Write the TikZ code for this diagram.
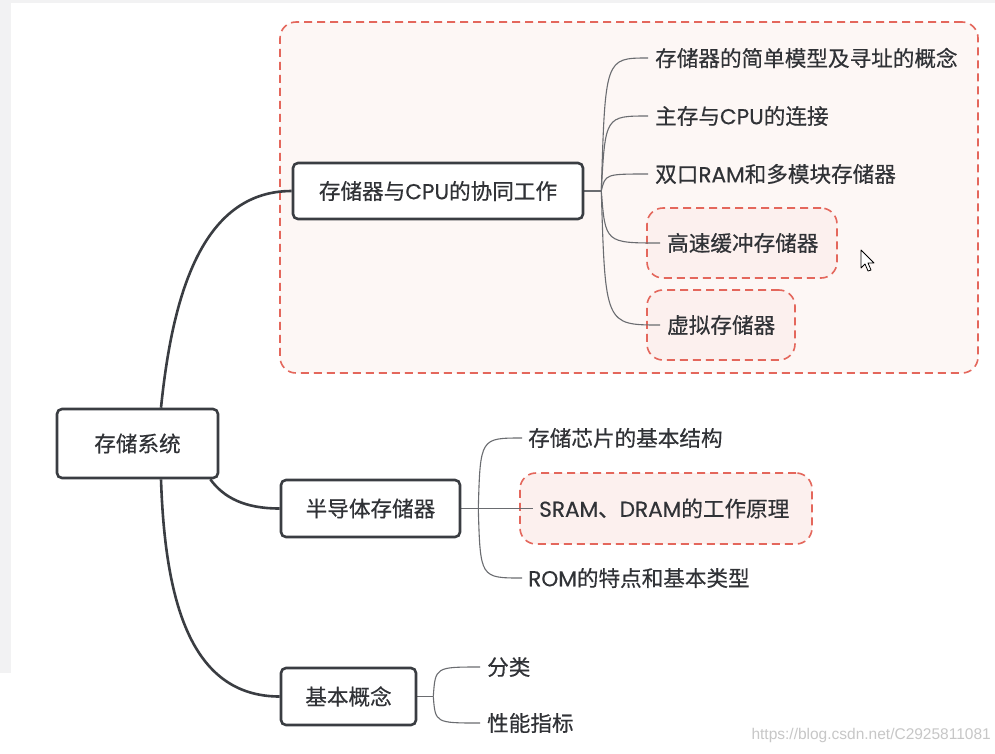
\documentclass[tikz,border=0pt]{standalone}
\usepackage{fontspec}
\setmainfont{Poppins}[FakeBold=0.45]
\newfontfamily\cjkfont{Noto Sans CJK SC}[FakeBold=0.45]
\newfontfamily\wmfont{Liberation Sans}
\usetikzlibrary{calc}
\pgfdeclarelayer{back}
\pgfdeclarelayer{mid}
\pgfsetlayers{back,mid,main}
\newcommand{\zh}[1]{{\cjkfont #1}}
\definecolor{linedark}{HTML}{3A3D42}
\definecolor{linegray}{HTML}{6A6C70}
\definecolor{txt}{HTML}{303236}
\definecolor{dashred}{HTML}{E4675C}
\definecolor{grpfill}{HTML}{FDF7F5}
\definecolor{hlfill}{HTML}{FCF0EE}
\definecolor{bggray}{HTML}{F2F2F3}
\tikzset{
  topicbox/.style={draw=linedark, line width=2.6pt, rounded corners=5pt, fill=white,
    text=txt, font=\fontsize{21.6}{25}\selectfont, inner sep=0pt},
  leaf/.style={anchor=west, inner sep=0pt, text=txt, font=\fontsize{21.6}{25}\selectfont},
  groupbox/.style={draw=dashred, line width=1.6pt, dash pattern=on 8pt off 5pt,
    rounded corners=16pt, fill=grpfill, inner sep=0pt},
  hlbox/.style={draw=dashred, line width=1.6pt, dash pattern=on 8pt off 5pt,
    rounded corners=16pt, fill=hlfill, inner sep=0pt},
  mainlink/.style={draw=linedark, line width=2.6pt},
  sublink/.style={draw=linegray, line width=1.1pt}
}
\begin{document}
\begin{tikzpicture}[x=1pt,y=-1pt]
\useasboundingbox (0,0) rectangle (995,753);
\begin{pgfonlayer}{back}
% background
\fill[bggray] (0,0) rectangle (995,753);
\fill[white] (11,3) rectangle (995,753);
\fill[white] (0,673) rectangle (11,753);
% group boxes
\node[groupbox, minimum width=698pt, minimum height=351pt] (g1) at (629,197.5) {};
\node[hlbox, minimum width=190pt, minimum height=70pt] (hcache) at (742,243) {};
\node[hlbox, minimum width=148pt, minimum height=70pt] (hvirt) at (721,325) {};
\node[hlbox, minimum width=292pt, minimum height=71pt] (hsram) at (666,508.5) {};
\end{pgfonlayer}

% topics
\node[topicbox, minimum width=161pt, minimum height=69pt] (root) at (137.5,443.5) {\zh{存储系统}};
\node[topicbox, minimum width=290pt, minimum height=56pt] (cpu) at (438,191) {\zh{存储器与}CPU\zh{的协同工作}};
\node[topicbox, minimum width=179pt, minimum height=57pt] (semi) at (370.5,508.5) {\zh{半导体存储器}};
\node[topicbox, minimum width=135pt, minimum height=57pt] (basic) at (348.5,696.5) {\zh{基本概念}};

% leaves
\node[leaf] (l1) at (655,58) {\zh{存储器的简单模型及寻址的概念}};
\node[leaf] (l2) at (655,116) {\zh{主存与}CPU\zh{的连接}};
\node[leaf] (l3) at (655,174) {\zh{双口}RAM\zh{和多模块存储器}};
\node[leaf] (l4) at (667,243) {\zh{高速缓冲存储器}};
\node[leaf] (l5) at (667,325) {\zh{虚拟存储器}};
\node[leaf] (s1) at (528,438) {\zh{存储芯片的基本结构}};
\node[leaf] (s2) at (539,508.5) {SRAM\zh{、}DRAM\zh{的工作原理}};
\node[leaf] (s3) at (528,578) {ROM\zh{的特点和基本类型}};
\node[leaf] (b1) at (487,667) {\zh{分类}};
\node[leaf] (b2) at (487,723) {\zh{性能指标}};

% branch points
\coordinate (bp1) at ($(cpu.east)+(17,0)$);
\coordinate (bp2) at ($(semi.east)+(17,0)$);
\coordinate (bp3) at ($(basic.east)+(16,0)$);

\begin{pgfonlayer}{mid}
% main links
\path[mainlink] ($(root.north)+(23.5,0)$) .. controls (172,300) and (200,191) .. (cpu.west);
\path[mainlink] ($(root.south east)+(-9,0)$) .. controls (224,498) and (245,508.5) .. (semi.west);
\path[mainlink] ($(root.south)+(23.5,0)$) .. controls (165,600) and (190,696.5) .. (basic.west);
% sub links
\path[sublink] (cpu.east) -- (bp1);
\foreach \n in {l1,l2,l3,l4,l5}{
  \path[sublink] (bp1) .. controls ($(bp1|-\n.west)+(4,0)$) .. ($(\n.west)+(-7,0)$);
}
\path[sublink] (semi.east) -- (bp2);
\path[sublink] (bp2) .. controls ($(bp2|-s1.west)+(2,0)$) .. ($(s1.west)+(-6,0)$);
\path[sublink] (bp2) -- ($(s2.west)+(-6,0)$);
\path[sublink] (bp2) .. controls ($(bp2|-s3.west)+(2,0)$) .. ($(s3.west)+(-6,0)$);
\path[sublink] (basic.east) -- (bp3);
\path[sublink] (bp3) .. controls ($(bp3|-b1.west)+(2,0)$) .. ($(b1.west)+(-7,0)$);
\path[sublink] (bp3) .. controls ($(bp3|-b2.west)+(2,0)$) .. ($(b2.west)+(-7,0)$);
\end{pgfonlayer}

% mouse cursor
\draw[black, line width=0.8pt, fill=white, line join=round]
  (861,250) -- (861,268) -- (865,264) -- (868,271) -- (871,270) -- (868,263) -- (874,263) -- cycle;

% watermark
\node[anchor=east, inner sep=0pt, text=black!22, font=\wmfont\fontsize{15.5}{18}\selectfont] (wm) at (991,735) {https://blog.csdn.net/C2925811081};
\end{tikzpicture}
\end{document}
